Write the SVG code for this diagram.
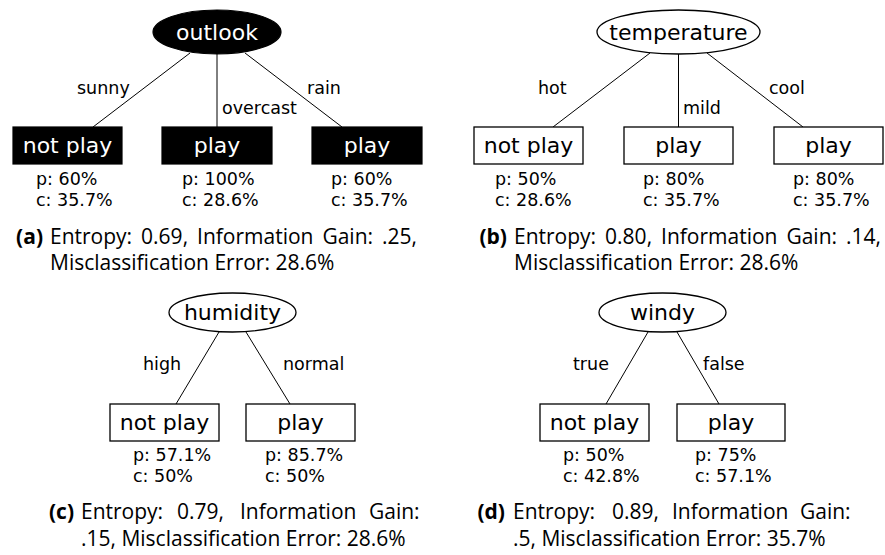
<svg xmlns="http://www.w3.org/2000/svg" width="885" height="555" viewBox="0 0 885 555">
  <style>
    .node { font-family: "DejaVu Sans", sans-serif; font-size: 22px; text-anchor: middle; }
    .small { font-family: "DejaVu Sans", sans-serif; font-size: 17.5px; }
    .edge { stroke: #000; stroke-width: 1; fill: none; }
    .dark { fill: #000; stroke: #000; stroke-width: 1.2; }
    .light { fill: #fff; stroke: #000; stroke-width: 1.3; }
    .wt { fill: #fff; }
    .cap { font-family: "Open Sans", "Noto Sans", sans-serif; font-size: 21px; fill: #000; }
    .lab { font-family: "Open Sans", "Noto Sans", sans-serif; font-size: 21px; font-weight: bold; text-anchor: end; }
  </style>
  <rect width="885" height="555" fill="#fff"/>

  <!-- connectors -->
  <g id="edges">
    <line class="edge" x1="190" y1="53" x2="93" y2="127"/>
    <line class="edge" x1="217" y1="54" x2="217" y2="127"/>
    <line class="edge" x1="245" y1="53" x2="342" y2="127"/>
    <line class="edge" x1="650" y1="53" x2="553" y2="127"/>
    <line class="edge" x1="678.5" y1="54" x2="678.5" y2="127"/>
    <line class="edge" x1="707" y1="53" x2="803" y2="127"/>
    <line class="edge" x1="219" y1="332" x2="176" y2="404"/>
    <line class="edge" x1="246" y1="332" x2="290" y2="404"/>
    <line class="edge" x1="648" y1="332" x2="606" y2="404"/>
    <line class="edge" x1="677" y1="332" x2="719" y2="404"/>
    <text class="small" x="77" y="94">sunny</text>
    <text class="small" x="222" y="114">overcast</text>
    <text class="small" x="307" y="94">rain</text>
    <text class="small" x="538" y="94">hot</text>
    <text class="small" x="683" y="114">mild</text>
    <text class="small" x="769" y="94">cool</text>
    <text class="small" x="143" y="370">high</text>
    <text class="small" x="283" y="370">normal</text>
    <text class="small" x="573" y="370">true</text>
    <text class="small" x="703" y="370">false</text>
  </g>

  <!-- (a) outlook -->
  <g id="outlook">
    <ellipse class="dark" cx="217" cy="32" rx="64" ry="22"/>
    <text class="node wt" x="217" y="40">outlook</text>
  </g>
  <g id="a-sunny">
    <rect class="dark" x="13" y="127" width="109" height="37"/>
    <text class="node wt" x="67.5" y="153">not play</text>
    <text class="small" x="36" y="185">p: 60%</text>
    <text class="small" x="36" y="206">c: 35.7%</text>
  </g>
  <g id="a-overcast">
    <rect class="dark" x="162" y="127" width="110" height="37"/>
    <text class="node wt" x="217" y="153">play</text>
    <text class="small" x="182" y="185">p: 100%</text>
    <text class="small" x="182" y="206">c: 28.6%</text>
  </g>
  <g id="a-rain">
    <rect class="dark" x="312" y="127" width="110" height="37"/>
    <text class="node wt" x="367" y="153">play</text>
    <text class="small" x="331" y="185">p: 60%</text>
    <text class="small" x="331" y="206">c: 35.7%</text>
  </g>
  <g id="cap-a">
    <text class="lab" x="43" y="244">(a)</text>
    <text class="cap" x="50" y="244" word-spacing="3.5">Entropy: 0.69, Information Gain: .25,</text>
    <text class="cap" x="50" y="270">Misclassification Error: 28.6%</text>
  </g>

  <!-- (b) temperature -->
  <g id="temperature">
    <ellipse class="light" cx="678.5" cy="32" rx="81.5" ry="22"/>
    <text class="node" x="678.5" y="40">temperature</text>
  </g>
  <g id="b-hot">
    <rect class="light" x="474" y="127" width="109" height="37"/>
    <text class="node" x="528.5" y="153">not play</text>
    <text class="small" x="495" y="185">p: 50%</text>
    <text class="small" x="495" y="206">c: 28.6%</text>
  </g>
  <g id="b-mild">
    <rect class="light" x="624" y="127" width="109" height="37"/>
    <text class="node" x="678.5" y="153">play</text>
    <text class="small" x="643" y="185">p: 80%</text>
    <text class="small" x="643" y="206">c: 35.7%</text>
  </g>
  <g id="b-cool">
    <rect class="light" x="774" y="127" width="109" height="37"/>
    <text class="node" x="828.5" y="153">play</text>
    <text class="small" x="793" y="185">p: 80%</text>
    <text class="small" x="793" y="206">c: 35.7%</text>
  </g>
  <g id="cap-b">
    <text class="lab" x="507" y="244">(b)</text>
    <text class="cap" x="514" y="244" word-spacing="3.5">Entropy: 0.80, Information Gain: .14,</text>
    <text class="cap" x="514" y="270">Misclassification Error: 28.6%</text>
  </g>

  <!-- (c) humidity -->
  <g id="humidity">
    <ellipse class="light" cx="232.5" cy="312.5" rx="63.5" ry="19.5"/>
    <text class="node" x="232.5" y="320">humidity</text>
  </g>
  <g id="c-high">
    <rect class="light" x="110" y="404" width="109" height="37"/>
    <text class="node" x="164.5" y="430">not play</text>
    <text class="small" x="133" y="461">p: 57.1%</text>
    <text class="small" x="133" y="482">c: 50%</text>
  </g>
  <g id="c-normal">
    <rect class="light" x="246" y="404" width="109" height="37"/>
    <text class="node" x="300.5" y="430">play</text>
    <text class="small" x="265" y="461">p: 85.7%</text>
    <text class="small" x="265" y="482">c: 50%</text>
  </g>
  <g id="cap-c">
    <text class="lab" x="74" y="519">(c)</text>
    <text class="cap" y="519"><tspan x="81">Entropy:</tspan><tspan x="177">0.79,</tspan><tspan x="240">Information</tspan><tspan x="369">Gain:</tspan></text>
    <text class="cap" x="81" y="546">.15, Misclassification Error: 28.6%</text>
  </g>

  <!-- (d) windy -->
  <g id="windy">
    <ellipse class="light" cx="662.5" cy="312.5" rx="63.5" ry="19.5"/>
    <text class="node" x="662.5" y="320">windy</text>
  </g>
  <g id="d-true">
    <rect class="light" x="540" y="404" width="109" height="37"/>
    <text class="node" x="594.5" y="430">not play</text>
    <text class="small" x="563" y="461">p: 50%</text>
    <text class="small" x="563" y="482">c: 42.8%</text>
  </g>
  <g id="d-false">
    <rect class="light" x="677" y="404" width="108" height="37"/>
    <text class="node" x="731" y="430">play</text>
    <text class="small" x="695" y="461">p: 75%</text>
    <text class="small" x="695" y="482">c: 57.1%</text>
  </g>
  <g id="cap-d">
    <text class="lab" x="505" y="519">(d)</text>
    <text class="cap" y="519"><tspan x="513">Entropy:</tspan><tspan x="612">0.89,</tspan><tspan x="672">Information</tspan><tspan x="800">Gain:</tspan></text>
    <text class="cap" x="513" y="546">.5, Misclassification Error: 35.7%</text>
  </g>
</svg>
